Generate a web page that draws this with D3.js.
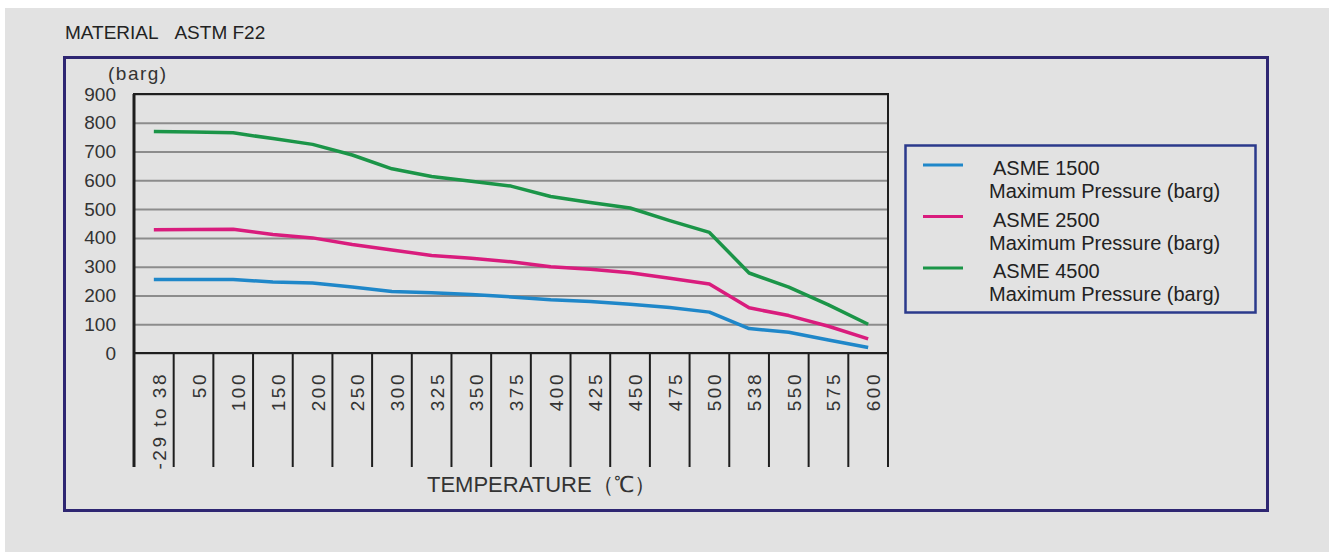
<!DOCTYPE html>
<html>
<head>
<meta charset="utf-8">
<script src="https://cdn.jsdelivr.net/npm/d3@7"></script>
<style>
  body { margin: 0; background: #ffffff; }
  svg { display: block; font-family: "Liberation Sans", Arial, sans-serif; }
</style>
</head>
<body>
<svg id="chart" width="1329" height="552"></svg>
<script>
// temperature categories (deg C)
const temperatures = ["-29 to 38", "50", "100", "150", "200", "250", "300", "325", "350",
  "375", "400", "425", "450", "475", "500", "538", "550", "575", "600"];

// maximum pressure (barg)
const asme1500 = [255, 255, 255, 247, 243, 229, 214, 209, 203, 195, 185, 179, 169, 158, 142, 85, 72, 45, 19];
const asme2500 = [428, 429, 430, 412, 400, 377, 358, 339, 329, 317, 300, 291, 279, 260, 240, 157, 130, 93, 49];
const asme4500 = [770, 768, 765, 745, 725, 688, 640, 613, 597, 580, 544, 523, 504, 460, 419, 278, 229, 167, 100];

const yTicks = [0, 100, 200, 300, 400, 500, 600, 700, 800, 900];

const seriesNames = ["ASME 1500", "ASME 2500", "ASME 4500"];
const seriesColors = ["#1f87c9", "#d91c7d", "#1b9548"];
const seriesValues = [asme1500, asme2500, asme4500];

const svg = d3.select("#chart");

// grey page with the white strip on top/left
svg.append("rect").attr("x", 5).attr("y", 8).attr("width", 1324).attr("height", 544).attr("fill", "#e2e2e2");

svg.append("text")
  .attr("x", 65).attr("y", 39)
  .attr("font-size", 19).attr("fill", "#222")
  .text("MATERIAL\u00a0\u00a0\u00a0ASTM F22");

// outer frame
svg.append("rect")
  .attr("x", 64.5).attr("y", 57.5).attr("width", 1203).attr("height", 453)
  .attr("fill", "none").attr("stroke", "#2e2672").attr("stroke-width", 3);

const plot = { left: 134, right: 888, top: 94, bottom: 353 };
const labelBottom = 467;

const x = d3.scaleBand().domain(temperatures).range([plot.left, plot.right]).padding(0);
const y = d3.scaleLinear().domain([0, 900]).range([plot.bottom, plot.top]);

// y axis with grid lines
const yAxis = svg.append("g")
  .attr("transform", `translate(${plot.left},0)`)
  .call(d3.axisLeft(y).tickValues(yTicks).tickSize(-(plot.right - plot.left)).tickPadding(18));
yAxis.select(".domain").remove();
yAxis.selectAll(".tick line").attr("stroke", "#8c8c8c").attr("stroke-width", 2);
yAxis.selectAll(".tick text")
  .attr("font-size", 19).attr("fill", "#333")
  .attr("font-family", "\"Liberation Sans\", Arial, sans-serif");

svg.append("text")
  .attr("x", 108).attr("y", 80)
  .attr("font-size", 19).attr("letter-spacing", 1.5).attr("fill", "#333")
  .text("(barg)");

// plot frame
svg.append("rect")
  .attr("x", plot.left).attr("y", plot.top)
  .attr("width", plot.right - plot.left).attr("height", plot.bottom - plot.top)
  .attr("fill", "none").attr("stroke", "#1e1e1e").attr("stroke-width", 2);

// category separators under the plot
const edges = temperatures.map((t) => x(t)).concat([x.range()[1]]);
svg.append("g")
  .selectAll("line")
  .data(edges)
  .join("line")
  .attr("x1", (d) => d).attr("x2", (d) => d)
  .attr("y1", (d, i) => (i === 0 || i === edges.length - 1 ? plot.top : plot.bottom))
  .attr("y2", labelBottom)
  .attr("stroke", "#1e1e1e")
  .attr("stroke-width", (d, i) => (i === 0 ? 3 : 2));

// rotated temperature labels
svg.append("g")
  .selectAll("text")
  .data(temperatures)
  .join("text")
  .attr("transform", (d) => `translate(${x(d) + x.bandwidth() / 2 + 12},372) rotate(-90)`)
  .attr("text-anchor", "end")
  .attr("font-size", 19)
  .attr("letter-spacing", 2.5)
  .attr("fill", "#333")
  .text((d) => d);

svg.append("text")
  .attr("x", 427).attr("y", 492)
  .attr("font-size", 22).attr("fill", "#333")
  .text("TEMPERATURE（℃）");

// series lines
const line = d3.line()
  .x((d, i) => x(temperatures[i]) + x.bandwidth() / 2)
  .y((d) => y(d));

svg.append("g")
  .selectAll("path")
  .data(seriesValues)
  .join("path")
  .attr("d", (d) => line(d))
  .attr("fill", "none")
  .attr("stroke", (d, i) => seriesColors[i])
  .attr("stroke-width", 3.5)
  .attr("stroke-linejoin", "round");

// legend
svg.append("rect")
  .attr("x", 905.5).attr("y", 145.5).attr("width", 350).attr("height", 167)
  .attr("fill", "none").attr("stroke", "#2b3a8c").attr("stroke-width", 2.5);

const legend = svg.append("g")
  .selectAll("g")
  .data(seriesNames)
  .join("g")
  .attr("transform", (d, i) => `translate(0,${165 + i * 51.5})`);

legend.append("line")
  .attr("x1", 923).attr("x2", 963)
  .attr("stroke", (d, i) => seriesColors[i])
  .attr("stroke-width", 3);

legend.append("text")
  .attr("x", 993).attr("y", 10)
  .attr("font-size", 20).attr("fill", "#222")
  .text((d) => d);

legend.append("text")
  .attr("x", 989).attr("y", 33)
  .attr("font-size", 20).attr("fill", "#222")
  .text("Maximum Pressure (barg)");
</script>
</body>
</html>
